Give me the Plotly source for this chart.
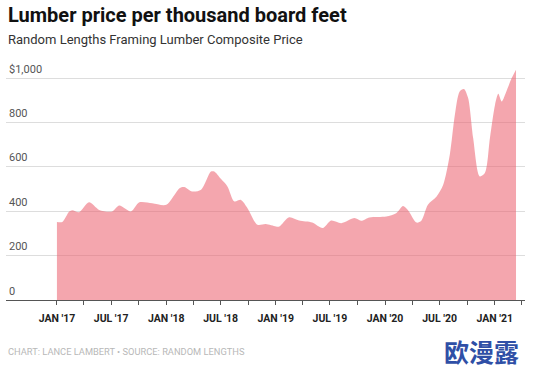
import plotly.graph_objects as go

dates = [
    "2017-01-01", "2017-01-19", "2017-02-11", "2017-02-21", "2017-03-16", "2017-04-18",
    "2017-05-22", "2017-07-04", "2017-07-28", "2017-09-05", "2017-10-03", "2017-11-15",
    "2018-01-01", "2018-02-14", "2018-03-02", "2018-03-28", "2018-04-27", "2018-05-30",
    "2018-06-10", "2018-07-02", "2018-07-24", "2018-08-16", "2018-09-07", "2018-09-29",
    "2018-11-01", "2018-11-29", "2019-01-02", "2019-01-13", "2019-02-15", "2019-03-20",
    "2019-05-03", "2019-06-07", "2019-07-05", "2019-08-08", "2019-09-21", "2019-10-13",
    "2019-11-10", "2020-01-05", "2020-02-07", "2020-03-01", "2020-03-17", "2020-04-15",
    "2020-05-01", "2020-05-23", "2020-06-21", "2020-07-13", "2020-08-04", "2020-08-21",
    "2020-09-06", "2020-09-20", "2020-10-04", "2020-10-21", "2020-11-12", "2020-11-29",
    "2020-12-16", "2021-01-02", "2021-01-13", "2021-01-24", "2021-02-11", "2021-02-27",
    "2021-03-13",
]
prices = [
    352, 352, 399, 405, 396, 440,
    406, 399, 426, 399, 440, 436,
    429, 504, 509, 489, 497, 579,
    579, 546, 512, 444, 451, 414,
    339, 342, 331, 331, 373, 358,
    349, 324, 358, 346, 369, 357,
    372, 376, 391, 424, 406, 349,
    357, 429, 466, 519, 655, 835,
    940, 951, 911, 730, 557, 572,
    730, 880, 929, 895, 948, 1001,
    1038,
]

tick_dates = ["2017-01-01", "2017-04-01", "2017-07-01", "2017-10-01", "2018-01-01",
              "2018-04-01", "2018-07-01", "2018-10-01", "2019-01-01", "2019-04-01",
              "2019-07-01", "2019-10-01", "2020-01-01", "2020-04-01", "2020-07-01",
              "2020-10-01", "2021-01-01", "2021-04-01"]
tick_labels = ["JAN '17", "", "JUL '17", "", "JAN '18", "", "JUL '18", "", "JAN '19", "",
               "JUL '19", "", "JAN '20", "", "JUL '20", "", "JAN '21", ""]
y_vals = [0, 200, 400, 600, 800, 1000]
y_labels = ["0", "200", "400", "600", "800", "$1,000"]

W, H = 548, 370
ML, MR, MT, MB = 6, 23, 67, 70

fig = go.Figure()
fig.add_trace(go.Scatter(
    x=dates, y=prices, mode="lines", line=dict(width=0, shape="spline", smoothing=0.8),
    fill="tozeroy", fillcolor="rgba(235,93,108,0.55)", hoverinfo="skip", showlegend=False,
))

fig.update_layout(
    width=W, height=H,
    margin=dict(l=ML, r=MR, t=MT, b=MB, autoexpand=False),
    paper_bgcolor="white", plot_bgcolor="white",
    font=dict(family="Roboto, sans-serif"),
    xaxis=dict(
        range=["2016-07-15", "2021-04-12"],
        tickvals=tick_dates, ticktext=tick_labels,
        ticks="outside", ticklen=4, tickcolor="#555", tickwidth=1,
        ticklabelstandoff=4,
        showline=True, linecolor="#555", linewidth=1,
        showgrid=False, zeroline=False, automargin=False,
        tickfont=dict(family="Roboto, sans-serif", size=10.5, color="#222", weight="bold"),
    ),
    yaxis=dict(
        range=[0, 1050],
        tickvals=y_vals, showticklabels=False,
        showgrid=True, gridcolor="#dddddd", gridwidth=1,
        zeroline=False, showline=False, ticks="", automargin=False,
    ),
)

for v, lab in zip(y_vals, y_labels):
    fig.add_annotation(text=lab, xref="paper", yref="y", x=0.002, y=v, yshift=9,
                       xanchor="left", yanchor="middle", showarrow=False,
                       font=dict(size=11, color="#555", family="Roboto, sans-serif"))

plot_w = W - ML - MR
plot_h = H - MT - MB
def px(xp):
    return (xp - ML) / plot_w
def py(yp):
    return (H - MB - yp) / plot_h

fig.add_annotation(text="<b>Lumber price per thousand board feet</b>", xref="paper", yref="paper",
                   x=px(6), y=py(15), xanchor="left", yanchor="middle", showarrow=False,
                   font=dict(size=20, color="#111", family="Roboto, sans-serif"))
fig.add_annotation(text="Random Lengths Framing Lumber Composite Price", xref="paper", yref="paper",
                   x=px(6), y=py(39), xanchor="left", yanchor="middle", showarrow=False,
                   font=dict(size=13, color="#333", family="Roboto, sans-serif"))
fig.add_annotation(text="CHART: LANCE LAMBERT • SOURCE: RANDOM LENGTHS", xref="paper", yref="paper",
                   x=px(6), y=py(351), xanchor="left", yanchor="middle", showarrow=False,
                   font=dict(size=9.3, color="#b8b8b8", family="Roboto, sans-serif"))
fig.add_annotation(text="<b>欧漫露</b>", xref="paper", yref="paper",
                   x=px(521), y=py(351), xanchor="right", yanchor="middle", showarrow=False,
                   font=dict(size=25, color="#2f4fa6", family="Noto Sans CJK SC"))

fig.write_html("out.html", config={"displayModeBar": False},
               post_script="document.body.style.margin='0';document.body.style.overflow='hidden';")
